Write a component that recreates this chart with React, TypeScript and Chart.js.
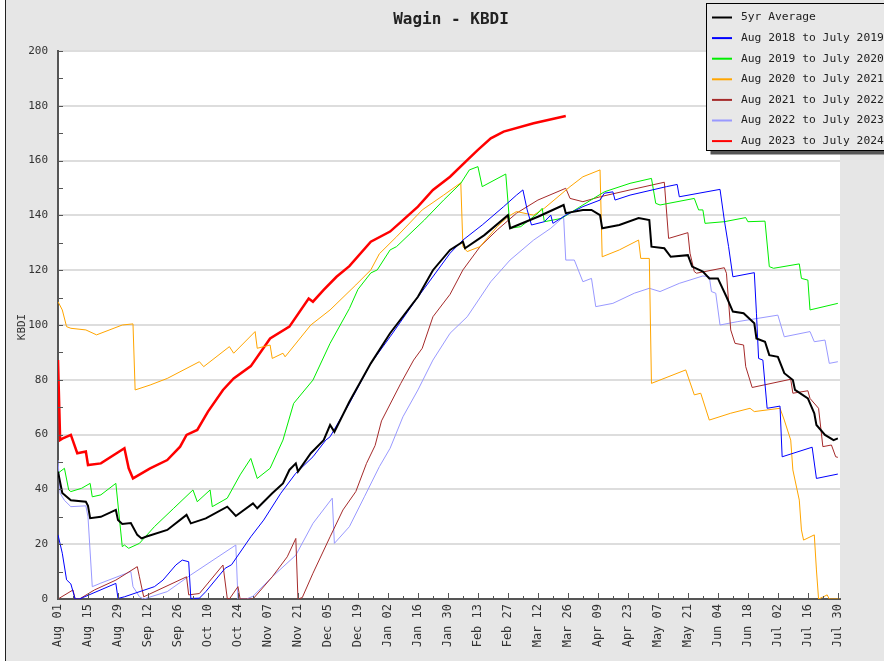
import { useEffect, useRef } from "react";
import { Chart, registerables } from "chart.js";

Chart.register(...registerables);

const chartTitle = "Wagin - KBDI";
const yAxisTitle = "KBDI";

const xTickLabels = [
  "Aug 01", "Aug 15", "Aug 29", "Sep 12", "Sep 26", "Oct 10", "Oct 24", "Nov 07", "Nov 21",
  "Dec 05", "Dec 19", "Jan 02", "Jan 16", "Jan 30", "Feb 13", "Feb 27", "Mar 12", "Mar 26",
  "Apr 09", "Apr 23", "May 07", "May 21", "Jun 04", "Jun 18", "Jul 02", "Jul 16", "Jul 30",
];

const seriesLabels = [
  "5yr Average",
  "Aug 2018 to July 2019",
  "Aug 2019 to July 2020",
  "Aug 2020 to July 2021",
  "Aug 2021 to July 2022",
  "Aug 2022 to July 2023",
  "Aug 2023 to July 2024",
];
const seriesColors = ["#000000", "#0000ff", "#00ee00", "#ffa500", "#a52a2a", "#9999ff", "#ff0000"];
const seriesWidths = [2, 1, 1, 1, 1, 1, 2.5];

// day index (0 = Aug 01) and KBDI values
const avgDays = [0, 2, 6, 13, 14, 15, 20, 27, 28, 30, 34, 37, 39, 41, 51, 60, 62, 69, 79, 83, 91, 93, 100, 105, 108, 111, 112, 118, 124, 127, 129, 136, 146, 155, 168, 175, 183, 189, 190, 199, 210, 211, 224, 236, 237, 245, 249, 253, 254, 262, 271, 276, 277, 283, 286, 294, 296, 301, 304, 308, 312, 315, 320, 325, 326, 330, 332, 336, 339, 343, 344, 350, 353, 354, 358, 362, 364];
const avgVals = [46.5, 38.7, 36, 35.5, 34, 29.5, 30, 32.5, 28.8, 27.4, 27.7, 23.4, 22.1, 22.7, 25.2, 30.7, 27.6, 29.4, 33.7, 30.3, 34.9, 33.1, 38.6, 42.2, 47.1, 49.5, 46.5, 53.2, 58, 63.5, 61, 72, 86, 97, 110.3, 120, 127.4, 130.4, 128, 132.8, 140.1, 135.3, 139.5, 143.8, 140.8, 142, 142, 140.1, 135.3, 136.5, 139, 138.3, 128.6, 128, 124.9, 125.5, 121.3, 119.5, 117, 117, 110.3, 104.9, 104.3, 100.6, 95.1, 93.9, 89, 88.4, 82.4, 79.9, 76.3, 73.2, 67.8, 63.5, 59.9, 58, 58.6];

const s2018Days = [0, 2, 4, 6, 8, 10, 27, 28, 31, 45, 49, 55, 58, 61, 62, 66, 69, 78, 81, 90, 96, 104, 111, 119, 125, 127, 136, 146, 155, 167, 183, 189, 198, 208, 214, 217, 219, 221, 227, 230, 231, 237, 245, 253, 255, 259, 260, 267, 284, 289, 290, 309, 311, 313, 315, 325, 326, 327, 329, 331, 337, 338, 352, 354, 364];
const s2018Vals = [23.4, 16.7, 7, 5.5, 0, 0, 5.7, 0.2, 0.8, 4.5, 6.9, 12.4, 14.2, 13.6, 0.2, 0.3, 2.7, 11.2, 12.5, 22.7, 28.8, 38.6, 45.9, 51.9, 58, 59.2, 71.4, 86, 95.7, 109.1, 126.2, 131, 136.5, 143.2, 147.4, 149.3, 142, 136.5, 137.7, 140.1, 137.1, 140.1, 143.2, 145.6, 148.1, 148.6, 145.6, 147.4, 150.5, 151.3, 146.8, 149.5, 138.3, 128.6, 117.6, 119.1, 104.3, 87.8, 87.2, 69.6, 70.4, 51.9, 55.4, 44, 45.6];

const s2019Days = [0, 3, 5, 6, 11, 15, 16, 20, 27, 30, 31, 33, 38, 45, 54, 63, 65, 71, 72, 79, 85, 90, 93, 99, 105, 110, 119, 127, 136, 140, 146, 149, 155, 158, 171, 180, 188, 192, 196, 198, 209, 211, 216, 224, 226, 227, 235, 245, 255, 267, 277, 279, 281, 297, 299, 301, 302, 311, 321, 322, 330, 332, 334, 346, 347, 350, 351, 364];
const s2019Vals = [45.9, 47.7, 39.8, 39.2, 40.4, 42.2, 37.3, 38, 42.2, 19.1, 19.7, 18.5, 20.3, 26.4, 33.1, 39.8, 35.5, 39.8, 33.7, 36.8, 45.3, 51.3, 44, 47.7, 58, 71.4, 79.9, 93.3, 106, 113, 119, 120.1, 127.4, 128.6, 138.3, 145.6, 151.7, 156.6, 157.8, 150.5, 155.1, 135.3, 135.9, 140.8, 142.6, 137.7, 138.9, 143.8, 148.6, 151.7, 153.5, 144.4, 143.8, 146.2, 142, 142, 137.1, 137.7, 139.2, 137.7, 137.9, 121.3, 120.7, 122.3, 117, 116.4, 105.5, 107.9];

const s2020Days = [0, 2, 4, 6, 13, 18, 30, 35, 36, 43, 51, 66, 68, 80, 82, 92, 93, 99, 100, 105, 106, 118, 127, 139, 146, 150, 158, 170, 180, 188, 189, 191, 197, 205, 210, 214, 222, 227, 239, 245, 253, 254, 262, 271, 272, 276, 277, 293, 297, 300, 304, 314, 323, 325, 337, 339, 342, 343, 346, 347, 348, 353, 354, 355, 357, 359, 360, 365];
const s2020Vals = [108.5, 105.5, 99.4, 98.8, 98.2, 96.4, 100, 100.4, 76.3, 78.1, 80.5, 86.6, 84.8, 92.1, 89.7, 97.6, 91.5, 92.7, 87.8, 89.7, 88.4, 100, 105.5, 114.6, 120.1, 126, 132.2, 142, 147.4, 151.9, 128.6, 126.8, 128.6, 135.9, 139.5, 141.4, 140.1, 142.6, 150.5, 154.1, 156.6, 124.9, 127.4, 131, 124.3, 124.3, 78.7, 83.6, 74.5, 75.1, 65.3, 67.8, 69.6, 68.4, 69.6, 65.3, 58, 47.1, 36.1, 25.2, 21.5, 23.4, 10.6, 0, 0.7, 1.5, 0, 0];

const s2021Days = [0, 7, 8, 10, 17, 27, 37, 38, 40, 60, 61, 66, 77, 79, 80, 84, 85, 91, 100, 107, 111, 112, 114, 119, 127, 133, 139, 144, 148, 151, 160, 166, 170, 175, 183, 189, 197, 205, 214, 224, 237, 239, 245, 253, 267, 283, 285, 294, 295, 297, 298, 311, 312, 314, 316, 320, 321, 324, 342, 343, 350, 351, 355, 357, 361, 363, 364];
const s2021Vals = [0, 3.3, 0, 0, 3.3, 6.9, 11.8, 8.1, 0.8, 8.1, 1.5, 2, 12.4, 0.2, 0, 4.5, 0, 0, 8.1, 15.4, 22.1, 0, 0.5, 9.4, 22.7, 32.5, 39.2, 49.5, 56, 65, 78.7, 87.2, 91.5, 103, 111.2, 120.1, 128.6, 134.7, 140.8, 145.6, 149.9, 146.2, 145, 146.8, 149.3, 152.1, 131.6, 133.7, 126.2, 119.5, 118.9, 120.9, 118.9, 98.2, 93.3, 92.7, 84.8, 77.2, 80.2, 75.1, 76, 73.2, 69.6, 55.6, 56.2, 51.9, 51.7];

const s2022Days = [0, 1, 3, 6, 13, 14, 16, 20, 34, 35, 37, 38, 40, 51, 62, 83, 84, 88, 91, 100, 111, 119, 128, 129, 136, 143, 150, 155, 161, 168, 175, 183, 191, 202, 211, 222, 230, 236, 237, 241, 245, 249, 251, 259, 269, 276, 281, 290, 301, 304, 305, 307, 309, 317, 336, 339, 351, 353, 358, 360, 364];
const s2022Vals = [50.7, 38.6, 36, 33.7, 34, 30, 4.5, 5.8, 10, 4.5, 2.1, 0.8, 0, 2.7, 8.8, 19.7, 0, 0, 1, 8.1, 16, 27.6, 36.8, 20.3, 26.4, 37.3, 48.3, 55, 66.5, 76.3, 87.2, 97, 103, 115.8, 123.7, 131, 135.3, 139.5, 123.7, 123.7, 115.8, 117, 106.7, 107.9, 111.6, 113.4, 112.2, 115.2, 117.9, 117.6, 112.2, 111.6, 100, 101.2, 103.6, 95.7, 97.6, 93.9, 94.5, 86, 86.6];

const s2023Days = [0, 1, 2, 6, 9, 13, 14, 20, 31, 33, 35, 43, 51, 57, 60, 65, 70, 77, 82, 90, 99, 108, 117, 119, 124, 130, 136, 146, 155, 161, 168, 175, 183, 191, 196, 202, 208, 222, 237];
const s2023Vals = [87.2, 58, 58.5, 59.9, 53.2, 53.8, 48.9, 49.5, 55, 47.7, 44, 47.7, 50.7, 55.6, 59.9, 61.7, 68.4, 76.3, 80.5, 85, 95.1, 99.4, 109.7, 108.5, 112.8, 117.6, 121.5, 130.4, 134.1, 138.3, 143.2, 149.3, 154.1, 160.2, 163.9, 168.1, 170.6, 173.6, 176.3];

const seriesDays = [avgDays, s2018Days, s2019Days, s2020Days, s2021Days, s2022Days, s2023Days];
const seriesVals = [avgVals, s2018Vals, s2019Vals, s2020Vals, s2021Vals, s2022Vals, s2023Vals];

const MONO = "'DejaVu Sans Mono', 'Liberation Mono', monospace";

const decor = {
  id: "decor",
  beforeDraw(chart: any) {
    const { ctx, width, height, chartArea } = chart;
    ctx.save();
    ctx.fillStyle = "#ffffff";
    ctx.fillRect(0, 0, width, height);
    ctx.fillStyle = "#e6e6e6";
    ctx.fillRect(6, 0, width - 6, height);
    ctx.fillStyle = "#222222";
    ctx.fillRect(5, 0, 1, height);
    ctx.fillStyle = "#ffffff";
    ctx.fillRect(chartArea.left, chartArea.top, chartArea.right - chartArea.left, chartArea.bottom - chartArea.top);
    ctx.restore();
  },
  afterDraw(chart: any) {
    const { ctx, chartArea } = chart;
    const xs = chart.scales.x;
    const ys = chart.scales.y;
    ctx.save();
    // inner tick marks
    ctx.strokeStyle = "#555555";
    ctx.lineWidth = 1;
    ctx.beginPath();
    for (let d = 0; d <= 364; d += 7) {
      const px = Math.round(xs.getPixelForValue(d)) + 0.5;
      const len = d % 14 === 0 ? 6 : 3;
      ctx.moveTo(px, chartArea.bottom);
      ctx.lineTo(px, chartArea.bottom - len);
    }
    for (let v = 10; v <= 200; v += 10) {
      const py = Math.round(ys.getPixelForValue(v)) + 0.5;
      ctx.moveTo(chartArea.left, py);
      ctx.lineTo(chartArea.left + 5, py);
    }
    ctx.stroke();

    // title
    ctx.fillStyle = "#222222";
    ctx.font = `bold 16px ${MONO}`;
    ctx.textAlign = "center";
    ctx.textBaseline = "middle";
    ctx.fillText(chartTitle, (chartArea.left + chartArea.right) / 2 + 2, 20);

    // y axis title
    ctx.save();
    ctx.translate(22, (chartArea.top + chartArea.bottom) / 2 + 2);
    ctx.rotate(-Math.PI / 2);
    ctx.font = `11px ${MONO}`;
    ctx.fillStyle = "#333333";
    ctx.fillText(yAxisTitle, 0, 0);
    ctx.restore();

    // legend box
    const bx = 706.5, by = 3.5, bw = 190, bh = 147;
    ctx.fillStyle = "#555555";
    ctx.fillRect(bx + 4, by + 4, bw, bh);
    ctx.fillStyle = "#e8e8e8";
    ctx.fillRect(bx, by, bw, bh);
    ctx.strokeStyle = "#000000";
    ctx.lineWidth = 1;
    ctx.strokeRect(bx, by, bw, bh);
    ctx.font = `11.3px ${MONO}`;
    ctx.textAlign = "left";
    ctx.textBaseline = "middle";
    chart.data.datasets.forEach((ds: any, i: number) => {
      const ry = 17.5 + i * 20.6;
      ctx.strokeStyle = ds.borderColor;
      ctx.lineWidth = 2;
      ctx.beginPath();
      ctx.moveTo(712, ry);
      ctx.lineTo(732, ry);
      ctx.stroke();
      ctx.fillStyle = "#222222";
      ctx.fillText(ds.label, 741, ry);
    });
    ctx.restore();
  },
};

export default function App() {
  const ref = useRef<HTMLCanvasElement>(null);
  useEffect(() => {
    document.body.style.margin = "0";
    const datasets = seriesLabels.map((label, i) => ({
      label,
      data: seriesDays[i].map((d, j) => ({ x: d, y: seriesVals[i][j] })),
      borderColor: seriesColors[i],
      backgroundColor: seriesColors[i],
      borderWidth: seriesWidths[i],
      pointRadius: 0,
      tension: 0,
      fill: false,
    }));
    const chart = new Chart(ref.current as HTMLCanvasElement, {
      type: "line",
      data: { datasets },
      options: {
        responsive: false,
        animation: false,
        layout: { padding: { left: 0, right: 44, top: 51, bottom: 0 } },
        plugins: {
          legend: { display: false },
          title: { display: false },
          tooltip: { enabled: false },
        },
        scales: {
          x: {
            type: "linear",
            min: 0,
            max: 365,
            grid: { display: false, drawTicks: false },
            border: { display: true, color: "#555555", width: 2 },
            afterBuildTicks: (s: any) => {
              s.ticks = xTickLabels.map((_, i) => ({ value: i * 14 }));
            },
            afterFit: (s: any) => {
              s.height = 62;
            },
            ticks: {
              autoSkip: false,
              minRotation: 90,
              maxRotation: 90,
              padding: 5,
              color: "#333333",
              font: { family: MONO, size: 12 },
              callback: (v: any) => xTickLabels[Math.round(Number(v) / 14)] ?? "",
            },
          },
          y: {
            min: 0,
            max: 200,
            grid: { color: "#dddddd", lineWidth: 2, drawTicks: false },
            border: { display: true, color: "#555555", width: 2 },
            afterFit: (s: any) => {
              s.width = 58;
            },
            ticks: {
              stepSize: 20,
              padding: 10,
              color: "#333333",
              font: { family: MONO, size: 11 },
            },
          },
        },
      } as any,
      plugins: [decor],
    });
    return () => chart.destroy();
  }, []);
  return <canvas ref={ref} width={884} height={661} style={{ display: "block" }} />;
}
